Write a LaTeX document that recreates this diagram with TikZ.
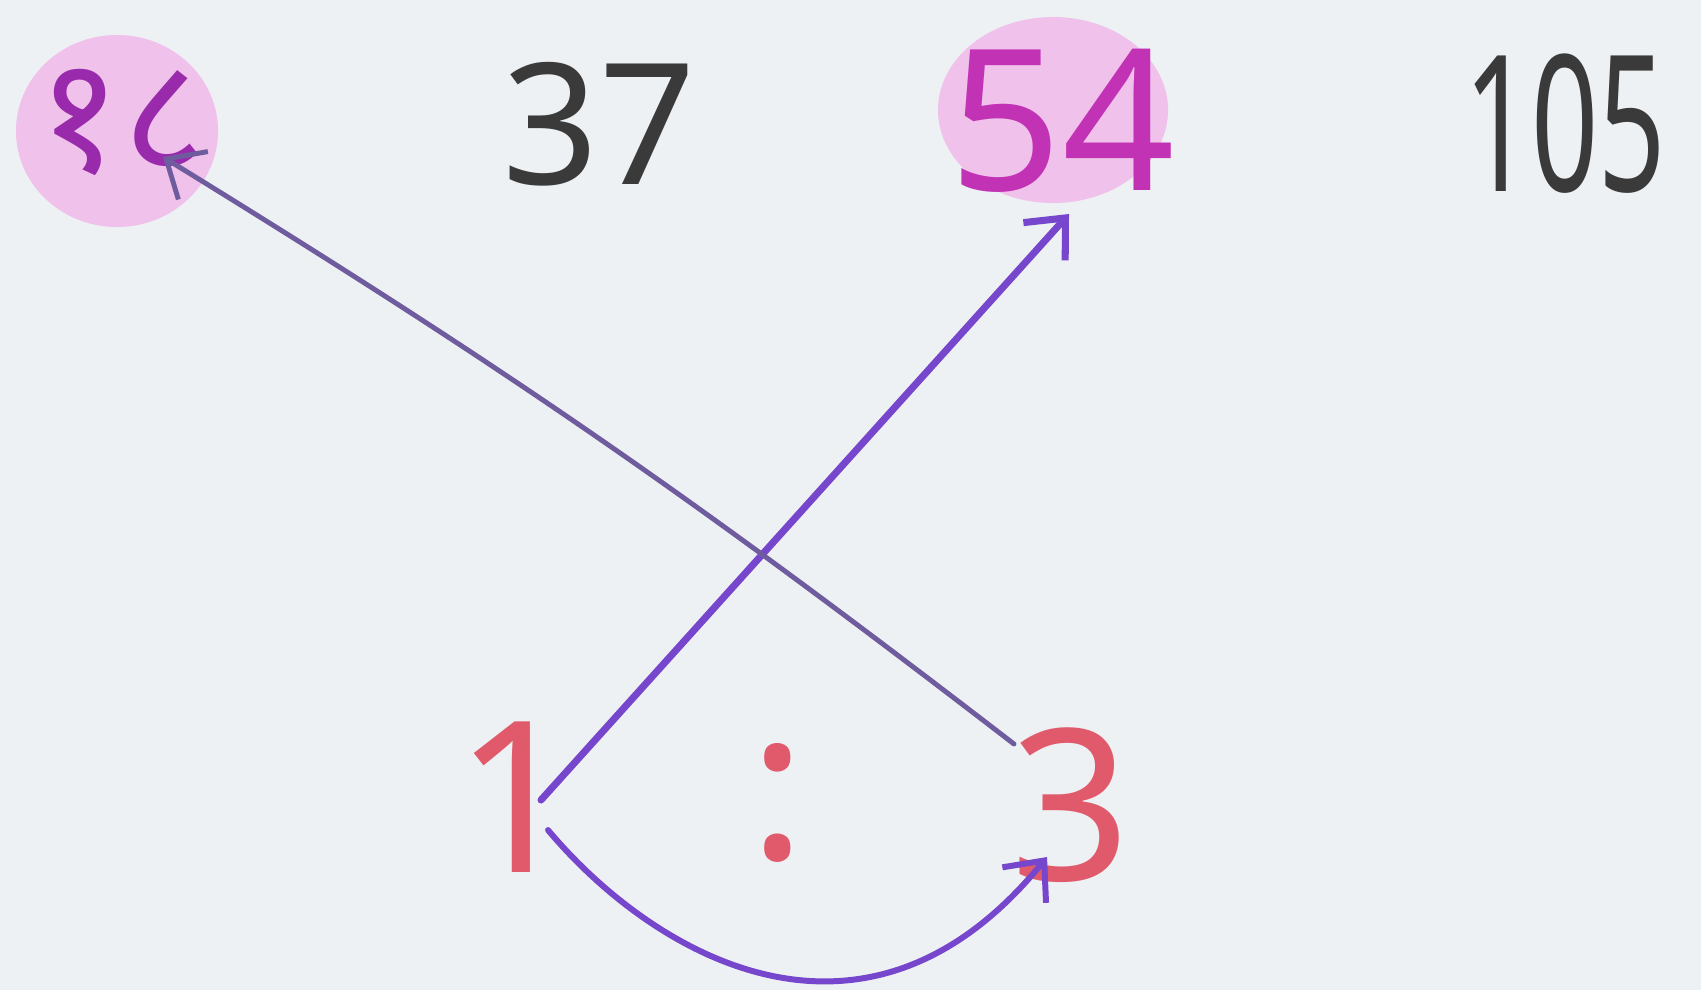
\documentclass[tikz,border=0pt]{standalone}
\usepackage{fontspec}
\setmainfont{Noto Sans}
\newfontfamily\devfont[Script=Devanagari]{Noto Sans}
\usetikzlibrary{arrows.meta,shapes.geometric,calc}
\definecolor{bgcol}{HTML}{EEF1F3}
\definecolor{blobcol}{HTML}{F0C2EB}
\definecolor{purptext}{HTML}{9A2AAC}
\definecolor{magtext}{HTML}{C232B4}
\definecolor{graytext}{HTML}{3A3A3A}
\definecolor{redtext}{HTML}{E05A6C}
\definecolor{arrvivid}{HTML}{7646CC}
\definecolor{arrgray}{HTML}{6E5C9E}
\tikzset{
  blob/.style={ellipse, fill=blobcol, draw=none},
  hand/.style={inner sep=0pt},
  barb/.style={-{Straight Barb[length=9pt,width=16pt]}},
  arrA/.style={barb, draw=arrvivid, line width=2pt, line cap=round},
  arrB/.style={barb, draw=arrgray, line width=1.4pt, line cap=round},
  arrC/.style={barb, draw=arrvivid, line width=1.7pt, line cap=round}
}
\begin{document}
\begin{tikzpicture}[x=0.01cm,y=-0.01cm]
\useasboundingbox (0,0) rectangle (1701,990);
\fill[bgcol] (0,0) rectangle (1701,990);
% highlighted blobs
\node[blob, minimum width=2.02cm, minimum height=1.92cm] (c1) at (117,131) {};
\node[blob, minimum width=2.3cm, minimum height=1.86cm] (c2) at (1053,110) {};
% top row numbers
\node[hand, font=\devfont\fontsize{46}{46}\selectfont, text=purptext] (n1) at (122,122) {१८};
\node[hand, font=\fontsize{48}{48}\selectfont, text=graytext] (n37) at (599,124) {37};
\node[hand, font=\fontsize{56}{56}\selectfont, text=magtext] (n54) at (1062,121) {54};
\node[hand, font=\fontsize{54}{54}\selectfont, text=graytext, xscale=0.62] (n105) at (1565,124) {105};
% ratio
\node[hand, font=\fontsize{60}{60}\selectfont, text=redtext] (one) at (516,797) {1};
\node[hand, font=\fontsize{60}{60}\selectfont, text=redtext] (colon) at (778,803) {:};
\node[hand, font=\fontsize{60}{60}\selectfont, text=redtext] (three) at (1071,805) {3};
% arrow end points
\coordinate (aS) at (541,800);
\coordinate (aE) at (1069,214);
\coordinate (bS) at (1014,744);
\coordinate (bE) at (163,157);
\coordinate (cS) at (548,830);
\coordinate (cE) at (1047,857);
% arrows
\draw[arrA] (aS) -- (aE);
\draw[arrB] (bS) to[bend right=3] (bE);
\draw[arrC] (cS) .. controls (651,953) and (864,1082) .. (cE);
\end{tikzpicture}
\end{document}
